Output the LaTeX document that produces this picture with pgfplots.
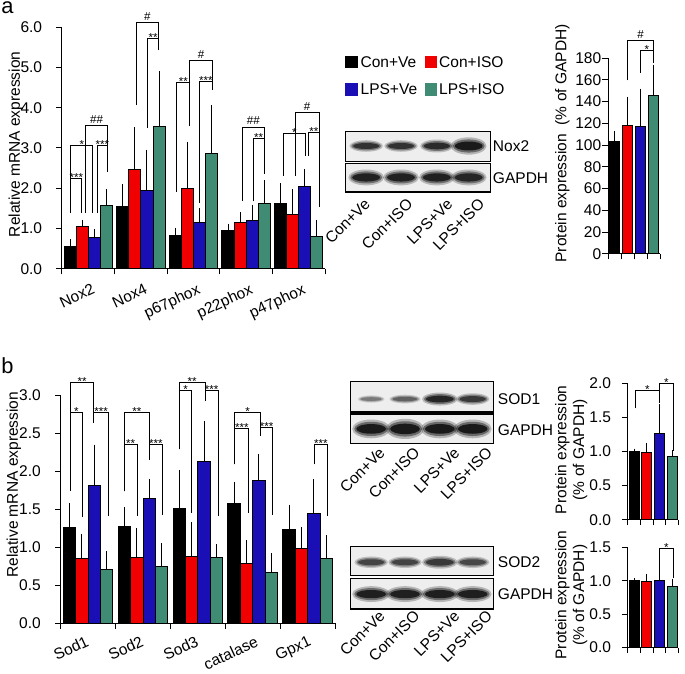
\documentclass[border=0pt]{standalone}
\usepackage{fontspec}
\setmainfont{Liberation Sans}
\usepackage{pgfplots}
\usepackage{pgfplotstable}
\pgfplotsset{compat=1.18}

\definecolor{cred}{HTML}{F00000}
\definecolor{cblue}{HTML}{1A0FB4}
\definecolor{cgreen}{HTML}{3F8B74}
\definecolor{blotbg}{HTML}{EEEEEE}

\newcommand\lbl{\fontsize{7.8}{9}\selectfont}
\newcommand\sigfont{\fontsize{5.8}{6}\selectfont}

% mRNA panel a: value and error (plus) per group
\pgfplotstableread{
g k ke r re b be gr gre
0 0.54 0.12 1.06 0.09 0.77 0.14 1.58 0.33
1 1.55 0.49 2.46 0.99 1.95 0.93 3.53 1.31
2 0.82 0.13 2.00 1.08 1.15 0.29 2.85 1.14
3 0.96 0.09 1.15 0.19 1.19 0.32 1.63 0.51
4 1.61 0.45 1.34 0.56 2.03 0.38 0.79 0.36
}\dataA

% mRNA panel b
\pgfplotstableread{
g k ke r re b be gr gre
0 1.265 0.28 0.855 0.28 1.814 0.50 0.702 0.21
1 1.280 0.21 0.870 0.35 1.648 0.22 0.746 0.27
2 1.510 0.47 0.877 0.42 2.128 0.50 0.872 0.13
3 1.574 0.25 0.785 0.27 1.880 0.31 0.672 0.21
4 1.234 0.29 0.981 0.25 1.448 0.42 0.850 0.28
}\dataB

\pgfplotsset{
  bb/.style={ybar, bar shift=0pt, bar width=#1, draw=black, line width=0.5pt,
    error bars/y dir=plus, error bars/y explicit,
    error bars/error bar style={black, line width=0.5pt, solid},
    error bars/error mark options={black, line width=0.5pt, mark size=1.4pt}},
  base/.style={scale only axis, clip=false, enlargelimits=false,
    axis lines=left, axis line style={-, line width=0.5pt, black},
    tick align=outside, major tick length=2.8pt,
    tick style={black, line width=0.5pt},
    tick label style={font=\lbl},
    xticklabels={},
    yticklabel style={inner sep=0pt, /pgf/number format/fixed, /pgf/number format/fixed zerofill, /pgf/number format/precision=1, /pgf/number format/assume math mode=true}},
}

\newcommand{\brk}[6]{%
  \draw[black, line width=0.5pt] (axis cs:#1,#4) -- (axis cs:#1,#3) -- (axis cs:#2,#3) -- (axis cs:#2,#5);
  \node[font=\sigfont, anchor=south, inner sep=0pt, yshift=-1.7pt] at (axis cs:{(#1+#2)/2},#3) {#6};}
\newcommand{\brh}[6]{%
  \draw[black, line width=0.5pt] (axis cs:#1,#4) -- (axis cs:#1,#3) -- (axis cs:#2,#3) -- (axis cs:#2,#5);
  \node[font=\sigfont, anchor=south, inner sep=0pt, yshift=0.9pt] at (axis cs:{(#1+#2)/2},#3) {#6};}

% blot band: x, y, half-width, half-height, darkness
\newcommand{\band}[5]{%
  \fill[black!#5, opacity=0.25] (#1,#2) ellipse ({1.12*#3} and {1.45*#4});
  \fill[black!#5, opacity=0.45] (#1,#2) ellipse ({1.0*#3} and {1.1*#4});
  \fill[black!#5, opacity=0.85] (#1,#2) ellipse ({0.88*#3} and {0.75*#4});}

\begin{document}
\begin{tikzpicture}
\begin{scope}[x=0.5pt,y=-0.5pt]
\path[use as bounding box] (0,0) rectangle (685,677);
\end{scope}

%================ Panel a: mRNA =================
\begin{axis}[base, at={(31.15pt,-135pt)}, anchor=south west,
  width=132.2pt, height=121.35pt,
  xmin=-0.5, xmax=4.5, ymin=0, ymax=6,
  xtick={-0.5,0.5,1.5,2.5,3.5,4.5}, ytick={0,1,2,3,4,5,6},
  yticklabel style={xshift=-7pt}]
\addplot[bb=0.23, fill=black] table[x expr=\thisrow{g}-0.345, y=k, y error=ke] {\dataA};
\addplot[bb=0.23, fill=cred] table[x expr=\thisrow{g}-0.115, y=r, y error=re] {\dataA};
\addplot[bb=0.23, fill=cblue] table[x expr=\thisrow{g}+0.115, y=b, y error=be] {\dataA};
\addplot[bb=0.23, fill=cgreen] table[x expr=\thisrow{g}+0.345, y=gr, y error=gre] {\dataA};
% brackets
\brk{-0.335}{-0.122}{2.23}{1.39}{1.39}{***}
\brk{-0.335}{0.086}{3.05}{1.39}{1.39}{*}
\brh{-0.058}{0.370}{3.56}{1.39}{2.39}{\#\#}
\brk{0.169}{0.370}{3.06}{1.39}{2.39}{***}
\brh{0.907}{1.334}{6.12}{4.06}{5.44}{\#}
\brk{1.126}{1.334}{5.71}{3.49}{5.44}{**}
\brk{1.682}{1.928}{4.62}{1.90}{3.54}{**}
\brh{1.928}{2.356}{5.18}{3.54}{4.43}{\#}
\brk{2.110}{2.356}{4.64}{1.63}{4.43}{***}
\brh{2.936}{3.339}{3.52}{1.67}{2.35}{\#\#}
\brk{3.131}{3.339}{3.23}{1.67}{2.35}{**}
\brk{3.711}{4.122}{3.36}{2.31}{2.80}{*}
\brh{3.932}{4.387}{3.87}{2.31}{1.53}{\#}
\brk{4.184}{4.387}{3.38}{2.80}{1.53}{**}
\end{axis}

%================ Panel a: protein =================
\begin{axis}[base, at={(305.5pt,-127.5pt)}, anchor=south west,
  width=26.15pt, height=98.35pt,
  xmin=0, xmax=4, ymin=0, ymax=180,
  xtick={0,1,2,3,4}, ytick={0,20,...,180},
  yticklabel style={xshift=-0.4pt, /pgf/number format/precision=0, /pgf/number format/fixed zerofill=false}]
\addplot[bb=0.73, fill=black] coordinates {(0.5,103.1) +- (0,7.0)};
\addplot[bb=0.73, fill=cred] coordinates {(1.5,118.4) +- (0,23.5)};
\addplot[bb=0.73, fill=cblue] coordinates {(2.5,117.1) +- (0,32.1)};
\addplot[bb=0.73, fill=cgreen] coordinates {(3.5,145.8) +- (0,25.6)};
\brh{1.5}{3.49}{196}{159.5}{175}{\#}
\brk{2.47}{3.49}{187}{166}{175}{*}
\end{axis}

%================ Panel b: mRNA =================
\begin{axis}[base, at={(30.5pt,-313.15pt)}, anchor=south west,
  width=137.85pt, height=114.5pt,
  xmin=-0.5, xmax=4.5, ymin=0, ymax=3,
  xtick={-0.5,0.5,1.5,2.5,3.5,4.5}, ytick={0,0.5,...,3},
  yticklabel style={xshift=-7pt}]
\addplot[bb=0.226, fill=black] table[x expr=\thisrow{g}-0.339, y=k, y error=ke] {\dataB};
\addplot[bb=0.226, fill=cred] table[x expr=\thisrow{g}-0.113, y=r, y error=re] {\dataB};
\addplot[bb=0.226, fill=cblue] table[x expr=\thisrow{g}+0.113, y=b, y error=be] {\dataB};
\addplot[bb=0.226, fill=cgreen] table[x expr=\thisrow{g}+0.339, y=gr, y error=gre] {\dataB};
\brk{-0.319}{0.104}{3.17}{1.744}{2.64}{**}
\brk{-0.319}{-0.106}{2.77}{1.744}{1.404}{*}
\brk{0.104}{0.371}{2.77}{2.64}{1.417}{***}
\brk{0.661}{1.114}{2.77}{1.736}{2.146}{**}
\brk{0.661}{0.891}{2.355}{1.736}{1.417}{**}
\brk{1.114}{1.355}{2.355}{2.146}{1.426}{***}
\brk{1.664}{2.130}{3.17}{2.29}{2.92}{**}
\brk{1.664}{1.888}{3.066}{2.29}{1.448}{*}
\brk{2.130}{2.371}{3.066}{2.92}{1.417}{***}
\brk{2.674}{3.140}{2.78}{2.09}{2.47}{*}
\brk{2.674}{2.928}{2.564}{2.09}{1.448}{***}
\brk{3.140}{3.363}{2.573}{2.47}{1.43}{***}
\brk{4.125}{4.355}{2.355}{2.09}{1.417}{***}
\end{axis}

%================ Panel b: protein SOD1 =================
\begin{axis}[base, at={(315.5pt,-261.15pt)}, anchor=south west,
  width=25.35pt, height=68.65pt,
  xmin=0, xmax=4, ymin=0, ymax=2,
  xtick={0,1,2,3,4}, ytick={0,0.5,...,2},
  yticklabel style={xshift=-5.5pt}]
\addplot[bb=0.79, fill=black] coordinates {(0.5,1.0) +- (0,0)};
\addplot[bb=0.79, fill=cred] coordinates {(1.5,0.99) +- (0,0.10)};
\addplot[bb=0.79, fill=cblue] coordinates {(2.5,1.27) +- (0,0.38)};
\addplot[bb=0.79, fill=cgreen] coordinates {(3.5,0.92) +- (0,0.06)};
\brk{0.58}{2.5}{1.89}{1.63}{1.71}{*}
\brk{2.5}{3.6}{2.0}{1.71}{1.0}{*}
\end{axis}

%================ Panel b: protein SOD2 =================
\begin{axis}[base, at={(315.5pt,-325.35pt)}, anchor=south west,
  width=25.35pt, height=50.35pt,
  xmin=0, xmax=4, ymin=0, ymax=1.5,
  xtick={0,1,2,3,4}, ytick={0,0.5,1,1.5},
  yticklabel style={xshift=-5.5pt}]
\addplot[bb=0.79, fill=black] coordinates {(0.5,1.0) +- (0,0)};
\addplot[bb=0.79, fill=cred] coordinates {(1.5,0.985) +- (0,0.075)};
\addplot[bb=0.79, fill=cblue] coordinates {(2.5,1.01) +- (0,0.09)};
\addplot[bb=0.79, fill=cgreen] coordinates {(3.5,0.92) +- (0,0.07)};
\brk{2.5}{3.6}{1.48}{1.12}{1.04}{*}
\end{axis}

%================ Decorations in pixel units =================
\begin{scope}[x=0.5pt,y=-0.5pt]
% panel letters
\node[anchor=base west, inner sep=0pt, font=\fontsize{11}{12}\selectfont] at (1,14) {a};
\node[anchor=base west, inner sep=0pt, font=\fontsize{11}{12}\selectfont] at (1,375) {b};
% category labels
\foreach \x/\t in {91.7/Nox2,144.6/Nox4,197.5/p67phox,250.4/p22phox,303.3/p47phox}{
  \node[rotate=25, anchor=north east, inner sep=0pt, font=\lbl] at (\x,284) {\t};
}
\foreach \x/\t in {85.6/Sod1,140.7/Sod2,195.9/Sod3,256/catalase,309.1/Gpx1}{
  \node[rotate=25, anchor=north east, inner sep=0pt, font=\lbl] at (\x,638) {\t};
}
% y labels
\node[rotate=90, font=\lbl, inner sep=0pt] at (16,145) {Relative mRNA expression};
\node[rotate=90, font=\lbl, inner sep=0pt] at (14,487) {Relative mRNA expression};
\node[rotate=90, font=\lbl, inner sep=0pt] at (565,144) {Protein expression\ \ (\% of GAPDH)};
\node[rotate=90, font=\lbl, inner sep=0pt, align=center] at (574,452) {Protein expression\\(\% of GAPDH)};
\node[rotate=90, font=\lbl, inner sep=0pt, align=center] at (574,598) {Protein expression\\(\% of GAPDH)};
% legend
\fill[black] (347,56) rectangle (360,68);
\node[anchor=west, font=\lbl, inner sep=0pt] at (362,62) {Con+Ve};
\fill[cred] (427,56) rectangle (439,68);
\node[anchor=west, font=\lbl, inner sep=0pt] at (441,62) {Con+ISO};
\fill[cblue] (347,83) rectangle (360,96);
\node[anchor=west, font=\lbl, inner sep=0pt] at (362,89.5) {LPS+Ve};
\fill[cgreen] (427,83) rectangle (439,96);
\node[anchor=west, font=\lbl, inner sep=0pt] at (441,89.5) {LPS+ISO};

% ---- blot a
\begin{scope}
\clip (347,132) rectangle (493,162);
\fill[blotbg] (347,132) rectangle (493,162);
\band{368}{146.7}{15}{4}{85}\band{403}{146.7}{15}{4}{85}\band{439}{146.7}{15}{4.5}{88}\band{471}{146.7}{16}{6}{95}
\end{scope}
\draw[line width=0.6pt] (347,132) rectangle (493,162);
\begin{scope}
\clip (347,164) rectangle (493,193);
\fill[blotbg] (347,164) rectangle (493,193);
\band{368}{178.3}{16}{5.5}{92}\band{403}{178.3}{16}{5.5}{92}\band{439}{178.3}{16}{5.5}{92}\band{471}{178.3}{16}{5.5}{90}
\end{scope}
\draw[line width=0.6pt] (347,164) rectangle (493,193);
\node[anchor=west, font=\lbl, inner sep=0pt] at (495,147) {Nox2};
\node[anchor=west, font=\lbl, inner sep=0pt] at (495,179) {GAPDH};
\foreach \x/\t in {365/Con+Ve,408/Con+ISO,448/LPS+Ve,480/LPS+ISO}{
  \node[rotate=45, anchor=north east, inner sep=0pt, font=\lbl] at (\x,198) {\t};
}

% ---- blot b SOD1
\begin{scope}
\clip (352,383) rectangle (496,414);
\fill[blotbg] (352,383) rectangle (496,414);
\band{373}{401}{12}{2.5}{55}\band{407}{401}{14}{3}{65}\band{442}{401}{16}{4.5}{90}\band{475}{401}{15}{4}{82}
\end{scope}
\draw[line width=0.6pt] (352,383) rectangle (496,414);
\begin{scope}
\clip (352,416) rectangle (496,446);
\fill[blotbg] (352,416) rectangle (496,446);
\band{373}{431}{17}{6.5}{95}\band{407}{431}{17}{7}{95}\band{442}{431}{17}{6.5}{95}\band{475}{431}{17}{6.5}{95}
\end{scope}
\draw[line width=0.6pt] (352,416) rectangle (496,446);
\node[anchor=west, font=\lbl, inner sep=0pt] at (500,401) {SOD1};
\node[anchor=west, font=\lbl, inner sep=0pt] at (500,432) {GAPDH};
\foreach \x/\t in {380/Con+Ve,415/Con+ISO,455/LPS+Ve,488/LPS+ISO}{
  \node[rotate=45, anchor=north east, inner sep=0pt, font=\lbl] at (\x,448) {\t};
}

% ---- blot b SOD2
\begin{scope}
\clip (352,549) rectangle (496,578);
\fill[blotbg] (352,549) rectangle (496,578);
\band{373}{565}{15}{4}{78}\band{407}{565}{15}{4}{78}\band{442}{565}{16}{4.5}{82}\band{475}{565}{15}{4}{76}
\end{scope}
\draw[line width=0.6pt] (352,549) rectangle (496,578);
\begin{scope}
\clip (352,581) rectangle (496,612);
\fill[blotbg] (352,581) rectangle (496,612);
\band{373}{597}{17}{5.5}{93}\band{407}{597}{17}{5.5}{93}\band{442}{597}{17}{5.5}{93}\band{475}{597}{17}{5.5}{93}
\end{scope}
\draw[line width=0.6pt] (352,581) rectangle (496,612);
\node[anchor=west, font=\lbl, inner sep=0pt] at (500,565) {SOD2};
\node[anchor=west, font=\lbl, inner sep=0pt] at (500,597) {GAPDH};
\foreach \x/\t in {380/Con+Ve,415/Con+ISO,455/LPS+Ve,488/LPS+ISO}{
  \node[rotate=45, anchor=north east, inner sep=0pt, font=\lbl] at (\x,612) {\t};
}
\end{scope}
\end{tikzpicture}
\end{document}
